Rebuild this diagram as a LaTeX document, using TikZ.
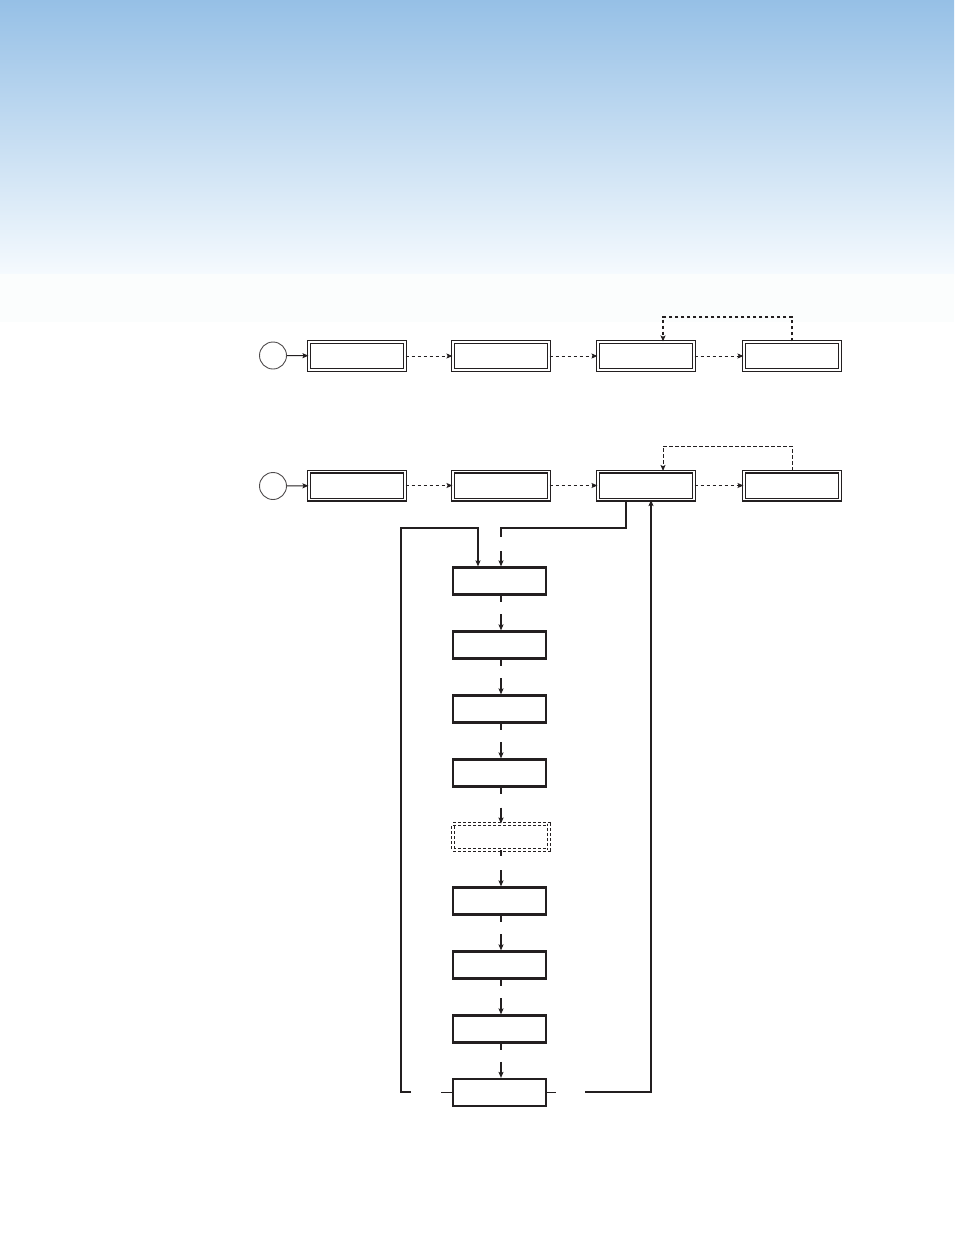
\documentclass[tikz,border=0pt]{standalone}
\usetikzlibrary{arrows.meta,calc}
\definecolor{ink}{RGB}{35,31,32}
\definecolor{skytop}{RGB}{150,192,230}
\definecolor{skybot}{RGB}{245,250,254}
\definecolor{skyfade}{RGB}{251,253,253}
\begin{document}
\begin{tikzpicture}[x=1pt,y=-1pt,
  >={Stealth[length=6pt,width=5pt,inset=1.2pt]},
  conn/.style={draw=ink,line width=1.1pt},
  dconn/.style={draw=ink,line width=0.9pt,dash pattern=on 3.5pt off 2.5pt},
  startc/.style={circle,draw=ink!80,line width=0.9pt,minimum size=27pt,inner sep=0pt},
  dbox/.style={rectangle,draw=ink,line width=1.1pt,double=white,double distance=1.8pt,minimum width=96pt,minimum height=28pt,inner sep=0pt},
  sbox/.style={rectangle,draw=ink,line width=2.2pt,minimum width=93pt,minimum height=27pt,inner sep=0pt},
  dashbox/.style={rectangle,draw=ink,line width=0.9pt,double=white,double distance=2.2pt,dash pattern=on 3pt off 2pt,minimum width=96pt,minimum height=26pt,inner sep=0pt}]
\useasboundingbox (0,0) rectangle (954,1235);
% background band
\shade[top color=skytop,bottom color=skybot] (0,0) rectangle (954,274);
\fill[skyfade] (0,274) rectangle (954,322);

% row 1
\node[startc] (r1s) at (273,355.5) {};
\node[dbox] (r1a) at (357,356) {};
\node[dbox] (r1b) at (501,356) {};
\node[dbox] (r1c) at (646,356) {};
\node[dbox] (r1d) at (792,356) {};
\draw[conn,->] (r1s) -- (r1a);
\draw[dconn,->] (r1a) -- (r1b);
\draw[dconn,->] (r1b) -- (r1c);
\draw[dconn,->] (r1c) -- (r1d);
\coordinate (f1) at (663,317);
\draw[dconn,line width=1.2pt,->] (r1d.north) |- (f1) -- (f1 |- r1c.north);

% row 2
\node[startc] (r2s) at (273,486) {};
\node[dbox] (r2a) at (357,485.5) {};
\node[dbox] (r2b) at (501,485.5) {};
\node[dbox] (r2c) at (646,485.5) {};
\node[dbox] (r2d) at (792,485.5) {};
\draw[conn,->] (r2s) -- (r2a);
\draw[dconn,->] (r2a) -- (r2b);
\draw[dconn,->] (r2b) -- (r2c);
\draw[dconn,->] (r2c) -- (r2d);
\coordinate (f2) at (663,446);
\draw[dconn,->] (r2d.north) |- (f2) -- (f2 |- r2c.north);

% vertical chain
\node[sbox] (v1) at (499.5,581) {};
\node[sbox] (v2) at (499.5,645) {};
\node[sbox] (v3) at (499.5,709) {};
\node[sbox] (v4) at (499.5,773) {};
\node[dashbox] (v5) at (501,837) {};
\node[sbox] (v6) at (499.5,901) {};
\node[sbox] (v7) at (499.5,965) {};
\node[sbox] (v8) at (499.5,1029) {};
\node[sbox] (v9) at (499.5,1092.5) {};
\coordinate (ax) at (501,0);
\foreach \a/\b in {v1/v2,v2/v3,v3/v4,v4/v5,v5/v6,v6/v7,v7/v8,v8/v9}{
  \draw[conn] (\a.south -| ax) -- ++(0,6);
  \draw[conn,->] ($(\b.north -| ax)+(0,-16)$) -- (\b.north -| ax);
}

% entry from row 2, box 3
\coordinate (t1) at (626,528);
\draw[conn] (r2c.south -| t1) -- (t1) -- (ax |- t1) -- ++(0,9);
\draw[conn,->] ($(v1.north -| ax)+(0,-15)$) -- (v1.north -| ax);

% left loop back to the chain
\coordinate (L0) at (411,1092);
\coordinate (L1) at (401,1092);
\coordinate (L2) at (401,528);
\coordinate (L3) at (478,528);
\draw[conn] (v9.west) -- ++(-11,0);
\draw[conn,->] (L0) -- (L1) -- (L2) -- (L3) -- (L3 |- v1.north);

% right return to row 2, box 3
\coordinate (R0) at (585,1092);
\coordinate (R1) at (651,1092);
\draw[conn] (v9.east) -- ++(9,0);
\draw[conn,->] (R0) -- (R1) -- (R1 |- r2c.south);
\end{tikzpicture}
\end{document}
